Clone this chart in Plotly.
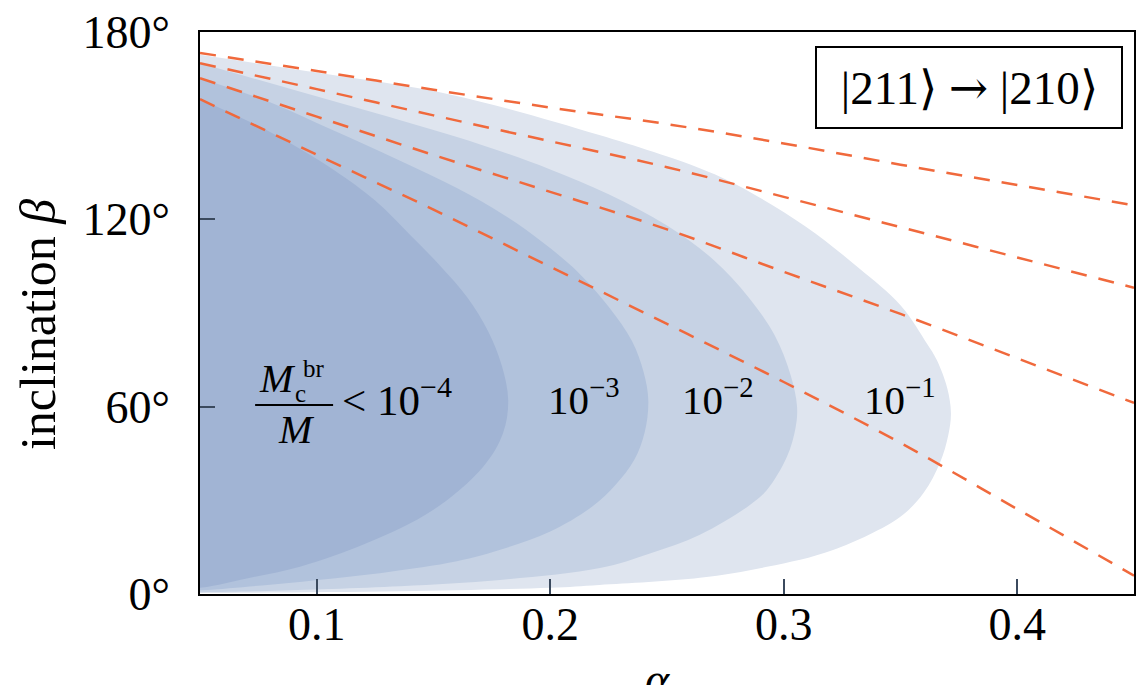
import plotly.graph_objects as go

# ---------------- data ----------------
x_ticks = [0.1, 0.2, 0.3, 0.4]
x_ticktext = ["0.1", "0.2", "0.3", "0.4"]
y_ticks = [0, 60, 120, 180]
y_ticktext = ["0°", "60°", "120°", "180°"]

# shaded regions (contours of M_c^br/M): alpha, beta (deg)
reg1_alpha = [0.05, 0.10, 0.157, 0.221, 0.264, 0.280, 0.309, 0.332, 0.350, 0.3615, 0.3655, 0.3700, 0.3716,
              0.3705, 0.3669, 0.360, 0.3498, 0.3211, 0.2928, 0.2641, 0.221, 0.200, 0.136, 0.05]
reg1_beta = [172.7, 167.0, 160.0, 147.0, 136.4, 131.0, 117.9, 104.5, 92.5, 80.0, 75.0, 66.0, 58.0,
             51.0, 42.0, 32.5, 24.7, 14.1, 8.7, 5.2, 2.9, 2.0, 0.9, 0.3]

reg2_alpha = [0.05, 0.09, 0.13, 0.17, 0.20, 0.225, 0.25, 0.27, 0.285, 0.296, 0.303, 0.3057,
              0.3050, 0.3014, 0.2928, 0.2855, 0.2641, 0.2427, 0.2213, 0.1785, 0.1357, 0.0787, 0.05]
reg2_beta = [170.0, 161.5, 153.0, 144.0, 136.0, 128.0, 118.0, 107.0, 95.0, 83.0, 70.0, 60.0,
             53.0, 44.0, 33.3, 28.5, 19.0, 13.0, 8.3, 4.5, 2.5, 1.0, 0.6]

reg3_alpha = [0.05, 0.08, 0.107, 0.135, 0.16, 0.18, 0.197, 0.212, 0.225, 0.235, 0.240, 0.242,
              0.2405, 0.236, 0.228, 0.218, 0.200, 0.180, 0.160, 0.130, 0.107, 0.080, 0.05]
reg3_beta = [165.2, 157.5, 148.5, 139.0, 130.0, 121.5, 112.5, 103.0, 92.0, 81.0, 71.0, 62.0,
             52.0, 43.0, 35.0, 28.0, 20.0, 14.5, 10.5, 7.0, 5.0, 3.0, 1.2]

reg4_alpha = [0.05, 0.08, 0.107, 0.125, 0.14, 0.153, 0.1645, 0.1735, 0.1793, 0.182,
              0.1798, 0.1712, 0.1498, 0.1215, 0.0928, 0.07, 0.05]
reg4_beta = [158.5, 148.0, 136.0, 126.0, 115.0, 105.0, 95.0, 84.0, 73.0, 62.0,
             51.6, 40.7, 26.9, 16.3, 8.7, 5.0, 2.0]

region_colors = ["#dfe5ef", "#c6d2e4", "#b1c2dc", "#a1b4d4"]

# dashed curves
line_alpha = [0.05, 0.10, 0.15, 0.20, 0.25, 0.30, 0.35, 0.40, 0.45]
line1_beta = [173.3, 167.5, 161.5, 155.8, 150.5, 144.3, 137.5, 131.0, 124.5]
line2_beta = [170.0, 161.7, 153.3, 145.0, 136.7, 127.2, 117.5, 107.8, 98.1]
line3_beta = [165.2, 152.9, 140.6, 128.8, 116.8, 103.2, 89.7, 75.5, 61.2]
line4_beta = [158.5, 140.7, 123.1, 104.8, 86.5, 67.9, 48.4, 27.2, 5.9]
line_color = "#f0693c"

FONT = "Liberation Serif"

fig = go.Figure()

regions = [(reg1_alpha, reg1_beta), (reg2_alpha, reg2_beta), (reg3_alpha, reg3_beta), (reg4_alpha, reg4_beta)]
for (a, b), c in zip(regions, region_colors):
    xs = list(a) + [0.0, 0.0]
    ys = list(b) + [0.0, b[0]]
    fig.add_trace(go.Scatter(x=xs, y=ys, mode="lines", fill="toself", fillcolor=c,
                             line=dict(width=0, color=c, shape="spline", smoothing=1.0),
                             hoverinfo="skip", showlegend=False))

for lb in [line1_beta, line2_beta, line3_beta, line4_beta]:
    fig.add_trace(go.Scatter(x=line_alpha, y=lb, mode="lines",
                             line=dict(color=line_color, width=2.5, dash="16px,12px", shape="spline"),
                             hoverinfo="skip", showlegend=False))

# ---------------- labels ----------------
lab_size = 41
for ax_, txt in [(0.2145, "10<sup>−3</sup>"), (0.2718, "10<sup>−2</sup>"), (0.3498, "10<sup>−1</sup>")]:
    fig.add_annotation(x=ax_, y=63, xref="x", yref="y", xanchor="center", text=txt, showarrow=False,
                       font=dict(family=FONT, size=lab_size, color="black"))
fig.add_annotation(x=0.110, y=63, xref="x", yref="y", xanchor="left", text="&lt; 10<sup>−4</sup>",
                   showarrow=False, font=dict(family=FONT, size=43, color="black"))
# fraction M_c^br / M
fig.add_annotation(x=0.0834, y=68.9, xref="x", yref="y", xanchor="center", text="<i>M</i>", showarrow=False,
                   font=dict(family=FONT, size=40, color="black"))
fig.add_annotation(x=0.0990, y=72.3, xref="x", yref="y", xanchor="center", text="br", showarrow=False,
                   font=dict(family=FONT, size=25, color="black"))
fig.add_annotation(x=0.0930, y=64.2, xref="x", yref="y", xanchor="center", text="c", showarrow=False,
                   font=dict(family=FONT, size=25, color="black"))
fig.add_annotation(x=0.0915, y=52.8, xref="x", yref="y", xanchor="center", text="<i>M</i>", showarrow=False,
                   font=dict(family=FONT, size=40, color="black"))
fig.add_shape(type="line", xref="x", yref="y", x0=0.0736, x1=0.1070, y0=60.5, y1=60.5,
              line=dict(color="black", width=2))

# state box
fig.add_annotation(x=0.823, y=0.902, xref="paper", yref="paper", xanchor="center", yanchor="middle",
                   text="&nbsp;|211⟩ <span style=\"font-family:'DejaVu Serif'\">→</span> |210⟩&nbsp;",
                   showarrow=False, bgcolor="white", bordercolor="black", borderwidth=2, borderpad=12,
                   font=dict(family=FONT, size=47, color="black"))

# axis titles
fig.add_annotation(x=-0.1734, y=0.4786, xref="paper", yref="paper", xanchor="center", yanchor="middle",
                   text="inclination <i>β</i>", textangle=-90, showarrow=False,
                   font=dict(family=FONT, size=50, color="black"))
fig.add_annotation(x=0.49, y=-0.103, xref="paper", yref="paper", xanchor="center", yanchor="top",
                   text="<i>α</i>", showarrow=False, font=dict(family=FONT, size=46, color="black"))

axis_common = dict(showgrid=False, zeroline=False, showline=True, linecolor="black", linewidth=2,
                   mirror=True, ticks="inside", ticklen=15, tickwidth=2, tickcolor="#3b4a5e",
                   automargin=False, tickfont=dict(family=FONT, size=46, color="black"))
fig.update_xaxes(range=[0.05, 0.45], tickvals=x_ticks, ticktext=x_ticktext, ticklabelstandoff=-11, **axis_common)
fig.update_yaxes(range=[0, 180], tickvals=y_ticks, ticktext=y_ticktext, ticklabelstandoff=19, **axis_common)

fig.update_layout(width=1136, height=685, margin=dict(l=200, r=2, t=32, b=91, autoexpand=False),
                  plot_bgcolor="white", paper_bgcolor="white", showlegend=False,
                  font=dict(family=FONT, size=46, color="black"))

fig.write_html("out.html", config={"displayModeBar": False},
               post_script="document.body.style.margin='0';document.body.style.overflow='hidden';")
